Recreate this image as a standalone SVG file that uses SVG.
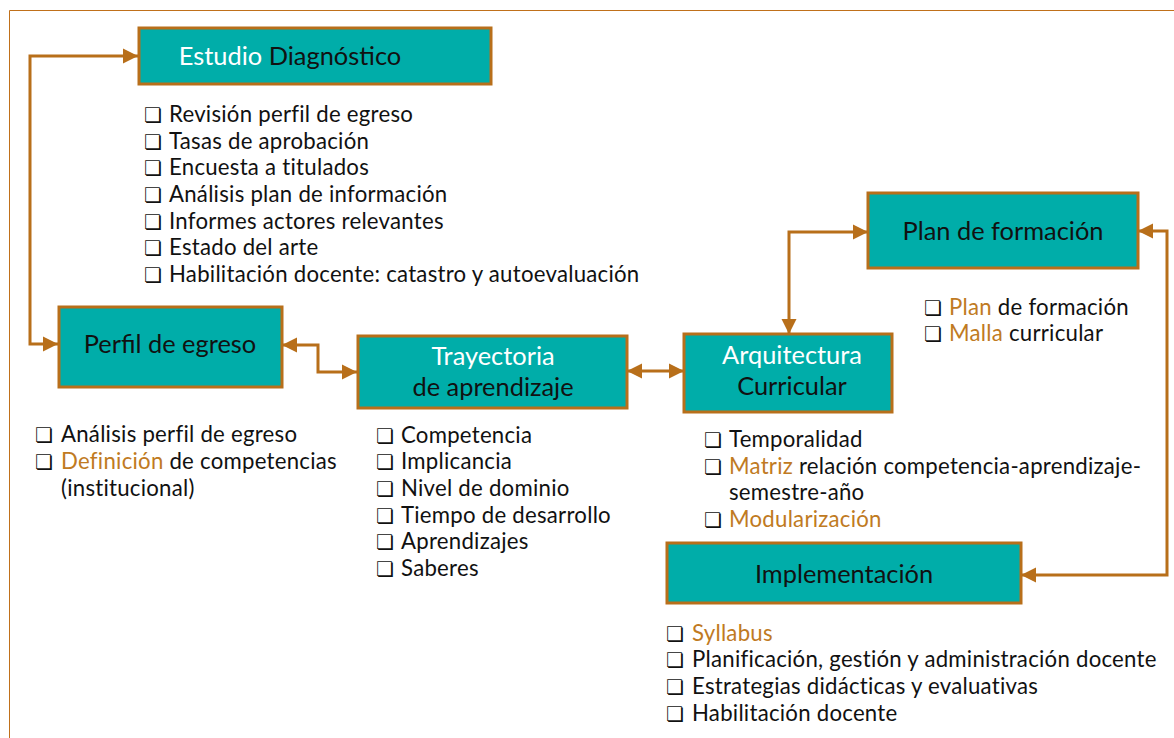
<svg xmlns="http://www.w3.org/2000/svg" width="1174" height="738" viewBox="0 0 1174 738">
<style>
.box{fill:#00ADA9;stroke:#B86F1A;stroke-width:3}
.t{font-family:Lato,"Open Sans","DejaVu Sans",sans-serif;font-size:25.4px;fill:#111}
.w{fill:#fff}
.l{font-family:Lato,"Open Sans","DejaVu Sans",sans-serif;font-size:22.2px;letter-spacing:0.25px;fill:#111}
.o{fill:#C07A22}
.cb{font-family:"DejaVu Sans",sans-serif;font-size:20px;letter-spacing:0;fill:#111}
.c{fill:none;stroke:#B86F1A;stroke-width:3}
</style>
<defs>
<marker id="ah" viewBox="0 0 10 10" refX="10" refY="5" markerWidth="5" markerHeight="5.3" orient="auto-start-reverse" markerUnits="strokeWidth">
<path d="M0,0 L10,5 L0,10 z" fill="#B86F1A"/>
</marker>
</defs>
<rect width="1174" height="738" fill="#fff"/>
<path d="M9.5,738 V10.5 H1174" fill="none" stroke="#C0701A" stroke-width="1"/>
<g id="connectors">
<path class="c" d="M58,344 H30 V56 H138" marker-start="url(#ah)" marker-end="url(#ah)"/>
<path class="c" d="M282,345 H318 V372 H357" marker-start="url(#ah)" marker-end="url(#ah)"/>
<path class="c" d="M627,371 H684" marker-start="url(#ah)" marker-end="url(#ah)"/>
<path class="c" d="M789,334 V232 H868" marker-start="url(#ah)" marker-end="url(#ah)"/>
<path class="c" d="M1021,575 H1167 V231 H1138" marker-start="url(#ah)" marker-end="url(#ah)"/>
</g>
<g id="estudio">
<rect class="box" x="139" y="28" width="352" height="56"/>
<text class="t" x="290" y="65" text-anchor="middle"><tspan class="w">Estudio</tspan> Diagnóstico</text>
<g class="l">
<text class="cb" x="144" y="122">❏</text><text x="169" y="122">Revisión perfil de egreso</text>
<text class="cb" x="144" y="149">❏</text><text x="169" y="149">Tasas de aprobación</text>
<text class="cb" x="144" y="175">❏</text><text x="169" y="175">Encuesta a titulados</text>
<text class="cb" x="144" y="202">❏</text><text x="169" y="202">Análisis plan de información</text>
<text class="cb" x="144" y="229">❏</text><text x="169" y="229">Informes actores relevantes</text>
<text class="cb" x="144" y="255">❏</text><text x="169" y="255">Estado del arte</text>
<text class="cb" x="144" y="282">❏</text><text x="169" y="282">Habilitación docente: catastro y autoevaluación</text>
</g>
</g>
<g id="perfil">
<rect class="box" x="59" y="307" width="223" height="80"/>
<text class="t" x="170" y="353" text-anchor="middle">Perfil de egreso</text>
<g class="l">
<text class="cb" x="35" y="442">❏</text><text x="61" y="442">Análisis perfil de egreso</text>
<text class="cb" x="35" y="469">❏</text><text x="61" y="469"><tspan class="o">Definición</tspan> de competencias</text>
<text x="61" y="496">(institucional)</text>
</g>
</g>
<g id="trayectoria">
<rect class="box" x="358" y="336" width="269" height="72"/>
<text class="t" x="493" y="365" text-anchor="middle"><tspan class="w">Trayectoria</tspan></text>
<text class="t" x="493" y="396" text-anchor="middle">de aprendizaje</text>
<g class="l">
<text class="cb" x="376" y="443">❏</text><text x="401" y="443">Competencia</text>
<text class="cb" x="376" y="469">❏</text><text x="401" y="469">Implicancia</text>
<text class="cb" x="376" y="496">❏</text><text x="401" y="496">Nivel de dominio</text>
<text class="cb" x="376" y="523">❏</text><text x="401" y="523">Tiempo de desarrollo</text>
<text class="cb" x="376" y="549">❏</text><text x="401" y="549">Aprendizajes</text>
<text class="cb" x="376" y="576">❏</text><text x="401" y="576">Saberes</text>
</g>
</g>
<g id="arquitectura">
<rect class="box" x="684" y="334" width="208" height="78"/>
<text class="t" x="792" y="364" text-anchor="middle"><tspan class="w">Arquitectura</tspan></text>
<text class="t" x="792" y="395" text-anchor="middle">Curricular</text>
<g class="l">
<text class="cb" x="704" y="447">❏</text><text x="729" y="447">Temporalidad</text>
<text class="cb" x="704" y="474">❏</text><text x="729" y="474"><tspan class="o">Matriz</tspan> relación competencia-aprendizaje-</text>
<text x="729" y="500">semestre-año</text>
<text class="cb" x="704" y="527">❏</text><text x="729" y="527" class="o">Modularización</text>
</g>
</g>
<g id="plan">
<rect class="box" x="868" y="193" width="270" height="75"/>
<text class="t" x="1003" y="240" text-anchor="middle">Plan de formación</text>
<g class="l">
<text class="cb" x="924" y="315">❏</text><text x="949" y="315"><tspan class="o">Plan</tspan> de formación</text>
<text class="cb" x="924" y="341">❏</text><text x="949" y="341"><tspan class="o">Malla</tspan> curricular</text>
</g>
</g>
<g id="implementacion">
<rect class="box" x="667" y="543" width="354" height="60"/>
<text class="t" x="844" y="583" text-anchor="middle">Implementación</text>
<g class="l">
<text class="cb" x="666" y="641">❏</text><text x="692" y="641" class="o">Syllabus</text>
<text class="cb" x="666" y="667">❏</text><text x="692" y="667">Planificación, gestión y administración docente</text>
<text class="cb" x="666" y="694">❏</text><text x="692" y="694">Estrategias didácticas y evaluativas</text>
<text class="cb" x="666" y="721">❏</text><text x="692" y="721">Habilitación docente</text>
</g>
</g>
</svg>
